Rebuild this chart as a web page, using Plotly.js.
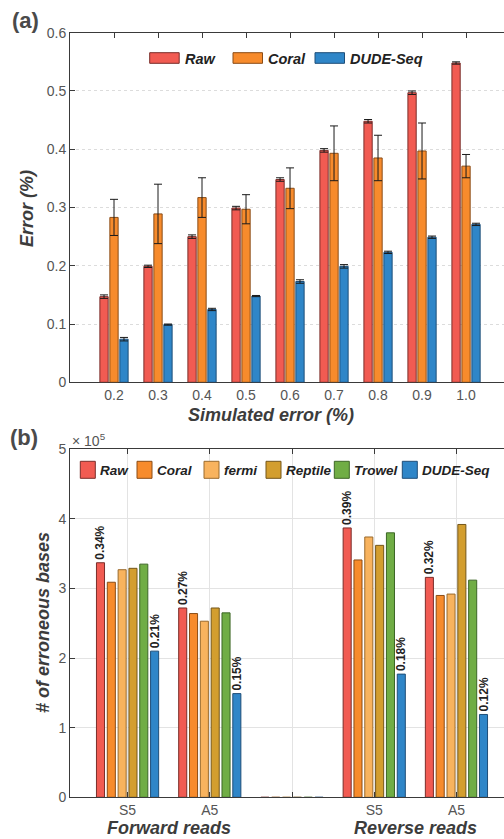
<!DOCTYPE html>
<html>
<head>
<meta charset="utf-8">
<script src="https://cdn.plot.ly/plotly-3.0.1.min.js"></script>
<style>
html, body { margin:0; padding:0; overflow:hidden; background:#fff; }
#chart { width:518px; height:839px; }
</style>
</head>
<body>
<div id="chart"></div>
<script>
// ---------- Panel (a) data ----------
const simErr = [0.2, 0.3, 0.4, 0.5, 0.6, 0.7, 0.8, 0.9, 1.0];
const simErrLabels = ['0.2', '0.3', '0.4', '0.5', '0.6', '0.7', '0.8', '0.9', '1.0'];
const seriesA = ['Raw', 'Coral', 'DUDE-Seq'];
const rawErr  = [0.147, 0.199, 0.250, 0.299, 0.348, 0.398, 0.448, 0.497, 0.548];
const rawSd   = [0.003, 0.002, 0.003, 0.003, 0.003, 0.003, 0.003, 0.003, 0.002];
const coralErr = [0.283, 0.289, 0.317, 0.297, 0.333, 0.393, 0.385, 0.397, 0.371];
const coralSd  = [0.031, 0.051, 0.034, 0.025, 0.035, 0.047, 0.039, 0.048, 0.020];
const dudeErr = [0.074, 0.099, 0.125, 0.148, 0.173, 0.199, 0.223, 0.249, 0.271];
const dudeSd  = [0.003, 0.001, 0.002, 0.001, 0.003, 0.003, 0.002, 0.002, 0.002];
const yTicksA = [0, 0.1, 0.2, 0.3, 0.4, 0.5, 0.6];
const yTickLabelsA = ['0', '0.1', '0.2', '0.3', '0.4', '0.5', '0.6'];

// ---------- Panel (b) data (units of 10^5 bases) ----------
const groupPos = [1, 2, 3, 4, 5];
const groupLabels = ['S5', 'A5', ' ', 'S5', 'A5'];
const readGroups = ['Forward reads', 'Reverse reads'];
const seriesB = ['Raw', 'Coral', 'fermi', 'Reptile', 'Trowel', 'DUDE-Seq'];
const rawB     = [3.37, 2.72, 0, 3.87, 3.16];
const coralB   = [3.09, 2.64, 0, 3.41, 2.90];
const fermiB   = [3.27, 2.53, 0, 3.74, 2.92];
const reptileB = [3.29, 2.72, 0, 3.62, 3.92];
const trowelB  = [3.35, 2.65, 0, 3.80, 3.12];
const dudeB    = [2.10, 1.49, 0, 1.77, 1.19];
const rawPct  = ['0.34%', '0.27%', null, '0.39%', '0.32%'];
const dudePct = ['0.21%', '0.15%', null, '0.18%', '0.12%'];
const yTicksB = [0, 1, 2, 3, 4, 5];

// ---------- styles ----------
const FONT = '"Liberation Sans", Arial, sans-serif';
const fill = {Raw:'#F15B52', Coral:'#F78B2C', fermi:'#F8B35E', Reptile:'#D39E2F', Trowel:'#70AD45', 'DUDE-Seq':'#2F86C8'};
const edge = {Raw:'#7A2E2A', Coral:'#8A4C16', fermi:'#9A6A2C', Reptile:'#74561A', Trowel:'#3C6626', 'DUDE-Seq':'#1E4E78'};
const errStyle = {color:'#1a1a1a', thickness:1, width:4};

const traces = [];
const valsA = [rawErr, coralErr, dudeErr];
const sdA = [rawSd, coralSd, dudeSd];
seriesA.forEach((name, i) => {
  traces.push({
    type:'bar', name:name, x:simErr, y:valsA[i], xaxis:'x', yaxis:'y',
    marker:{color:fill[name], line:{color:edge[name], width:1}},
    error_y:Object.assign({type:'data', array:sdA[i], visible:true}, errStyle),
    showlegend:false, hoverinfo:'skip'
  });
});

const valsB = [rawB, coralB, fermiB, reptileB, trowelB, dudeB];
const slot = 0.79 / 6, barW = 0.098;
seriesB.forEach((name, i) => {
  const t = {
    type:'bar', name:name, x:groupPos, y:valsB[i], xaxis:'x2', yaxis:'y2',
    width:barW, offset:-0.395 + (slot - barW) / 2 + i * slot,
    marker:{color:fill[name], line:{color:edge[name], width:1}},
    showlegend:false, hoverinfo:'skip', cliponaxis:false
  };
  if (i === 0 || i === seriesB.length - 1) {
    t.text = i === 0 ? rawPct : dudePct;
    t.textposition = 'outside';
    t.textangle = -90;
    t.constraintext = 'none';
    t.textfont = {family:FONT, size:12, color:'#222', weight:'bold'};
  } else {
    t.textposition = 'none';
  }
  traces.push(t);
});

// pixel helpers for paper coordinates (plot area: x 70..514, paper height 839)
const PX = px => (px - 70) / 444;
const PY = py => 1 - py / 839;

const shapes = [];
const annotations = [];

// legend (a)
const legA = [149.7, 233, 315];
seriesA.forEach((name, i) => {
  shapes.push({type:'rect', xref:'paper', yref:'paper', x0:PX(legA[i]), x1:PX(legA[i] + 29.5),
    y0:PY(63.3), y1:PY(52.7), fillcolor:fill[name], line:{color:edge[name], width:1}});
  annotations.push({xref:'paper', yref:'paper', x:PX(legA[i] + 33), y:PY(58.5), xanchor:'left', yanchor:'middle',
    text:'<b><i>' + name + '</i></b>', showarrow:false, font:{family:FONT, size:14.5, color:'#222'}});
});
// legend (b)
const legB = [80.3, 137, 204, 266, 334.3, 402.3];
seriesB.forEach((name, i) => {
  shapes.push({type:'rect', xref:'paper', yref:'paper', x0:PX(legB[i]), x1:PX(legB[i] + 15),
    y0:PY(478.3), y1:PY(461.3), fillcolor:fill[name], line:{color:edge[name], width:1}});
  annotations.push({xref:'paper', yref:'paper', x:PX(legB[i] + 17.5), y:PY(470), xanchor:'left', yanchor:'middle',
    text:'<b><i>' + name + '</i></b>', showarrow:false, font:{family:FONT, size:13.5, color:'#222'}});
});

// panel labels and titles
const titleFont = {family:FONT, size:18, color:'#3c3c3c'};
annotations.push(
  {xref:'paper', yref:'paper', x:PX(25.5), y:PY(21), text:'<b>(a)</b>', showarrow:false,
   xanchor:'center', yanchor:'middle', font:{family:FONT, size:22, color:'#4a4a4a'}},
  {xref:'paper', yref:'paper', x:PX(24), y:PY(437.5), text:'<b>(b)</b>', showarrow:false,
   xanchor:'center', yanchor:'middle', font:{family:FONT, size:22, color:'#4a4a4a'}},
  {xref:'paper', yref:'paper', x:PX(27), y:PY(209), text:'<b><i>Error (%)</i></b>', textangle:-90,
   showarrow:false, xanchor:'center', yanchor:'middle', font:titleFont},
  {xref:'paper', yref:'paper', x:PX(270.5), y:PY(415), text:'<b><i>Simulated error (%)</i></b>',
   showarrow:false, xanchor:'center', yanchor:'middle', font:titleFont},
  {xref:'paper', yref:'paper', x:PX(43), y:PY(623), text:'<b><i># of erroneous bases</i></b>', textangle:-90,
   showarrow:false, xanchor:'center', yanchor:'middle', font:titleFont},
  {xref:'x2', yref:'paper', x:(groupPos[0] + groupPos[1]) / 2, y:0, text:'<b><i>' + readGroups[0] + '</i></b>',
   showarrow:false, xanchor:'center', yanchor:'bottom', borderpad:0, font:titleFont},
  {xref:'x2', yref:'paper', x:(groupPos[3] + groupPos[4]) / 2, y:0, text:'<b><i>' + readGroups[1] + '</i></b>',
   showarrow:false, xanchor:'center', yanchor:'bottom', borderpad:0, font:titleFont},
  {xref:'paper', yref:'paper', x:PX(70), y:PY(440), text:'× 10<sup>5</sup>',
   showarrow:false, xanchor:'left', yanchor:'middle', font:{family:FONT, size:14, color:'#555'}}
);

const tickFont = {family:FONT, size:14, color:'#555'};
const axisCommon = {showline:true, linecolor:'#3a3a3a', linewidth:1, mirror:'ticks', ticks:'inside',
  ticklen:5, tickcolor:'#3a3a3a', tickfont:tickFont, zeroline:false, fixedrange:true};

const layout = {
  width:518, height:839,
  margin:{l:70, r:4, t:0, b:0},
  paper_bgcolor:'#fff', plot_bgcolor:'#fff',
  barmode:'group', bargap:0.32, bargroupgap:0.17,
  showlegend:false,
  xaxis:Object.assign({}, axisCommon, {domain:[0,1], anchor:'y', range:[0.1, 1.109],
    tickvals:simErr, ticktext:simErrLabels, showgrid:false, layer:'below traces'}),
  yaxis:Object.assign({}, axisCommon, {domain:[PY(382.3), PY(32.7)], anchor:'x', range:[0, 0.6],
    tickvals:yTicksA, ticktext:yTickLabelsA, showgrid:true, gridcolor:'#dcdcdc', griddash:'dot', gridwidth:1}),
  xaxis2:Object.assign({}, axisCommon, {domain:[0,1], anchor:'y2', range:[0.3, 5.7],
    tickvals:groupPos, ticktext:groupLabels, showgrid:true, gridcolor:'#e3e3e3', gridwidth:1}),
  yaxis2:Object.assign({}, axisCommon, {domain:[PY(797.3), PY(449.3)], anchor:'x2', range:[0, 5],
    tickvals:yTicksB, showgrid:true, gridcolor:'#e3e3e3', gridwidth:1}),
  shapes:shapes,
  annotations:annotations
};

Plotly.newPlot('chart', traces, layout, {displayModeBar:false, staticPlot:true});
</script>
</body>
</html>
